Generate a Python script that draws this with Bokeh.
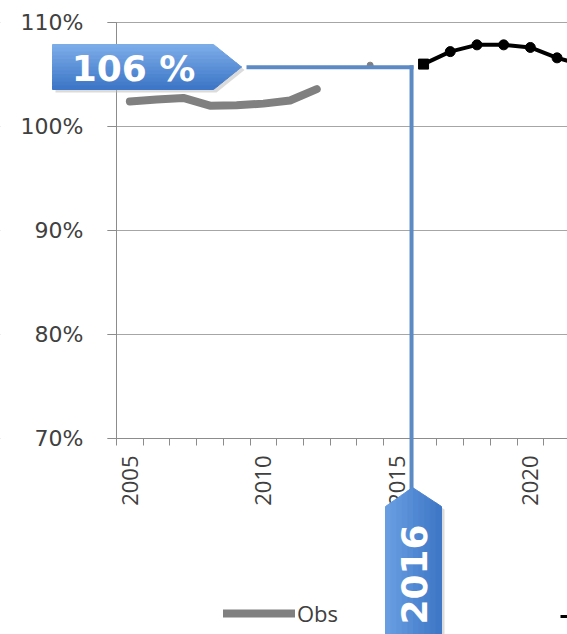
import math
from bokeh.plotting import figure
from bokeh.models import (Range1d, FixedTicker, CustomJSTickFormatter, PolyAnnotation,
                          Label, Legend, LegendItem, LinearAxis, Grid, BoxAnnotation)
from bokeh.embed import file_html
from bokeh.resources import INLINE

# ---------------- data ----------------
obs_years = [2005, 2006, 2007, 2008, 2009, 2010, 2011, 2012]
obs_values = [102.4, 102.6, 102.75, 102.0, 102.05, 102.2, 102.5, 103.6]
obs_extra_years = [2014]
obs_extra_values = [105.9]
proj_years = [2016, 2017, 2018, 2019, 2020, 2021, 2022]
proj_values = [106.0, 107.2, 107.85, 107.85, 107.6, 106.6, 105.9]
y_ticks = [70, 80, 90, 100, 110]
x_label_years = [2005, 2010, 2015, 2020]
category_years = list(range(2004, 2023))
annot_value_text = "106 %"
annot_year_text = "2016"
annot_year = 2015.55
annot_value = 105.7

# ---------------- layout constants ----------------
W, H = 567, 634
FL, FT, FB = 116, 22, 438
PXY = 26.7
X0 = 2004.5
Y0, Y1 = 70, 110
PXV = (FB - FT) / (Y1 - Y0)


def dx(px):
    return X0 + (px - FL) / PXY


def dy(py):
    return Y1 - (py - FT) / PXV


def lerp_color(c1, c2, t):
    a = [int(c1[i:i + 2], 16) for i in (1, 3, 5)]
    b = [int(c2[i:i + 2], 16) for i in (1, 3, 5)]
    return "#" + "".join("%02x" % round(a[k] + (b[k] - a[k]) * t) for k in range(3))


X_END = dx(W)
p = figure(width=W, height=H, x_range=Range1d(dx(0), dx(W)), y_range=Range1d(dy(H), dy(0)),
           output_backend="svg", toolbar_location=None,
           x_axis_location=None, y_axis_location=None,
           min_border=0)
p.outline_line_color = None
p.background_fill_color = "white"
p.xgrid.visible = False
p.ygrid.visible = False

axis_col = "#8c8c8c"
yaxis = LinearAxis(fixed_location=X0, bounds=(Y0, Y1), ticker=FixedTicker(ticks=y_ticks),
                   formatter=CustomJSTickFormatter(code="return tick.toFixed(0) + '%'"),
                   major_tick_out=9, major_tick_in=0, minor_tick_out=0, minor_tick_in=0,
                   major_label_standoff=24, major_label_text_font="DejaVu Sans",
                   major_label_text_font_size="22px", major_label_text_color="#404040",
                   axis_line_color=axis_col, major_tick_line_color=axis_col)
p.add_layout(yaxis, "left")

xaxis = LinearAxis(fixed_location=Y0, bounds=(X0, X_END + 1),
                   ticker=FixedTicker(ticks=x_label_years,
                                      minor_ticks=[y + 0.5 for y in category_years]),
                   major_tick_out=0, major_tick_in=0, minor_tick_out=7, minor_tick_in=0,
                   minor_tick_line_color=axis_col, axis_line_color=axis_col,
                   major_label_orientation=math.pi / 2, major_label_standoff=10,
                   major_label_text_font="Open Sans", major_label_text_font_size="22px",
                   major_label_text_color="#404040")
p.add_layout(xaxis, "below")

grid = Grid(dimension=1, ticker=yaxis.ticker, grid_line_color="#a6a6a6", grid_line_width=1)
p.add_layout(grid)
# keep grid lines to the plot area (they stop at the y axis tick ends)
p.add_layout(BoxAnnotation(right=dx(FL - 9), fill_color="white", fill_alpha=1,
                           line_alpha=0, level="underlay"))

# ---------------- series ----------------
obs_r = p.line(obs_years, obs_values, line_color="#808080", line_width=8,
               line_cap="round", line_join="round")
p.scatter(obs_extra_years, obs_extra_values, size=6, color="#808080")
p.line(proj_years, proj_values, line_color="black", line_width=4, line_join="round")
p.scatter(proj_years[1:], proj_values[1:], size=10, color="black")
p.scatter(proj_years[:1], proj_values[:1], marker="square", size=10, color="black")

legend = Legend(items=[LegendItem(label="Obs", renderers=[obs_r])],
                orientation="horizontal", location=(223, H - 628),
                glyph_width=72, glyph_height=26, label_standoff=2,
                padding=0, margin=0, border_line_color=None,
                background_fill_alpha=0, label_text_font="Open Sans",
                label_text_font_size="22px", label_text_color="#404040",
                label_height=26)
p.add_layout(legend)

# second legend entry stub (cut at the right edge)
p.add_layout(PolyAnnotation(xs=[dx(560), dx(570), dx(570), dx(560)],
                            ys=[dy(614.5), dy(614.5), dy(617.5), dy(617.5)],
                            fill_color="black", fill_alpha=1, line_alpha=0))

# ---------------- annotation boxes ----------------
blue_line = "#5b8ac5"
hx0 = 246
vx = FL + (annot_year - X0) * PXY
hy = FT + (Y1 - annot_value) * PXV

p.add_layout(PolyAnnotation(xs=[dx(hx0), dx(vx + 2), dx(vx + 2), dx(hx0)],
                            ys=[dy(hy - 2), dy(hy - 2), dy(hy + 2), dy(hy + 2)],
                            fill_color=blue_line, fill_alpha=1, line_alpha=0))
p.add_layout(PolyAnnotation(xs=[dx(vx - 2), dx(vx + 2), dx(vx + 2), dx(vx - 2)],
                            ys=[dy(hy - 2), dy(hy - 2), dy(495), dy(495)],
                            fill_color=blue_line, fill_alpha=1, line_alpha=0))

# box 1 : "106 %"
bl, br, tip, bt, bb = 52, 213, 241, 44, 89
bm = (bt + bb) / 2


def right_edge(py):
    return br + (tip - br) * (1 - abs(py - bm) / (bm - bt))


sh = 3
p.add_layout(PolyAnnotation(xs=[dx(v + sh) for v in (bl, br, tip, br, bl)],
                            ys=[dy(v + sh) for v in (bt, bt, bm, bb, bb)],
                            fill_color="#b8b8b8", fill_alpha=0.5, line_alpha=0))
n = 12
for i in range(n):
    ya = bt + (bb - bt) * i / n
    yb = bt + (bb - bt) * (i + 1) / n
    pts = [(bl, ya), (right_edge(ya), ya)]
    if ya < bm < yb:
        pts.append((tip, bm))
    pts += [(right_edge(yb), yb), (bl, yb)]
    col = lerp_color("#7eaeea", "#3c75c6", (i + 0.5) / n)
    p.add_layout(PolyAnnotation(xs=[dx(a) for a, _ in pts], ys=[dy(b) for _, b in pts],
                                fill_color=col, fill_alpha=1, line_color=col,
                                line_alpha=1, line_width=1))
p.add_layout(Label(x=dx(133), y=dy(bm + 1), text=annot_value_text, text_align="center",
                   text_baseline="middle", text_color="white", text_font="DejaVu Sans",
                   text_font_style="bold", text_font_size="36px"))

# box 2 : "2016"
l2, r2, apex_y, sh_y, b2 = 385, 441, 487, 506, 645
apx = vx + 1
p.add_layout(PolyAnnotation(xs=[dx(v + sh) for v in (l2, apx, r2, r2, l2)],
                            ys=[dy(v) for v in (sh_y + sh, apex_y + sh, sh_y + sh, b2, b2)],
                            fill_color="#b8b8b8", fill_alpha=0.5, line_alpha=0))


def top_y(px):
    if px <= apx:
        return sh_y - (sh_y - apex_y) * (px - l2) / (apx - l2)
    return apex_y + (sh_y - apex_y) * (px - apx) / (r2 - apx)


m = 10
for i in range(m):
    xa = l2 + (r2 - l2) * i / m
    xb = l2 + (r2 - l2) * (i + 1) / m
    pts = [(xa, b2), (xa, top_y(xa))]
    if xa < apx < xb:
        pts.append((apx, apex_y))
    pts += [(xb, top_y(xb)), (xb, b2)]
    col = lerp_color("#6a9fe2", "#3d76c6", (i + 0.5) / m)
    p.add_layout(PolyAnnotation(xs=[dx(a) for a, _ in pts], ys=[dy(b) for _, b in pts],
                                fill_color=col, fill_alpha=1, line_color=col,
                                line_alpha=1, line_width=1))
p.add_layout(Label(x=dx(apx + 1), y=dy(574), text=annot_year_text, angle=math.pi / 2,
                   text_align="center", text_baseline="middle", text_color="white",
                   text_font="DejaVu Sans", text_font_style="bold", text_font_size="36px"))

open("out.html", "w").write(file_html(p, INLINE))
